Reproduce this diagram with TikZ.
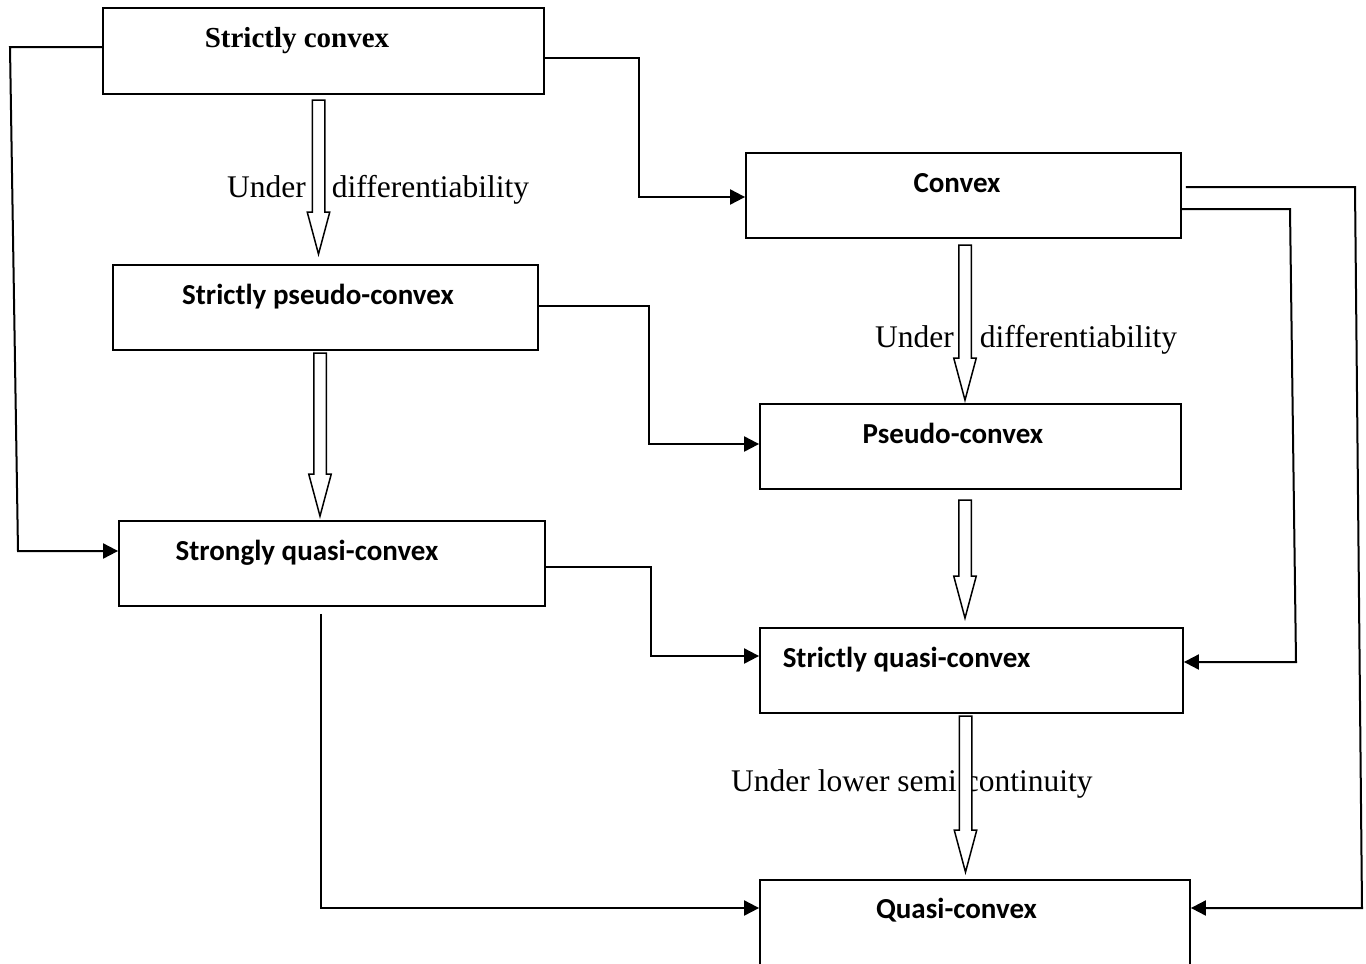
\documentclass[tikz,border=0pt]{standalone}
\usepackage{fontspec}
\setmainfont{Liberation Serif}
\newfontfamily\calib{Carlito}
\usetikzlibrary{arrows.meta,shapes.arrows,calc}
\begin{document}
\begin{tikzpicture}[x=1pt,y=-1pt,
  box/.style={draw, line width=1.8pt, rectangle, inner sep=0pt},
  conn/.style={line width=2pt, -{Triangle[length=15pt,width=15pt]}},
  hollow/.style={single arrow, draw, line width=1.5pt, fill=white, rotate=-90,
    inner xsep=0pt, inner ysep=5.5pt, single arrow head extend=5pt,
    single arrow tip angle=30, anchor=tip},
  sertitle/.style={font=\fontsize{29}{34}\selectfont\bfseries, anchor=base, inner sep=0pt},
  santitle/.style={font=\fontsize{29}{34}\selectfont\calib\bfseries, anchor=base, inner sep=0pt},
  cond/.style={font=\fontsize{31.5}{38}\selectfont, anchor=base west, inner sep=0pt}]
\useasboundingbox (0,0) rectangle (1366,964);
\fill[white] (0,0) rectangle (1366,964);
\clip (0,0) rectangle (1366,964);

% boxes
\node[box, minimum width=441pt, minimum height=86pt] (sc) at (323.5,51) {};
\node[box, minimum width=435pt, minimum height=85pt] (cv) at (963.5,195.5) {};
\node[box, minimum width=425pt, minimum height=85pt] (spc) at (325.5,307.5) {};
\node[box, minimum width=421pt, minimum height=85pt] (pc) at (970.5,446.5) {};
\node[box, minimum width=426pt, minimum height=85pt] (sgq) at (332,563.5) {};
\node[box, minimum width=423pt, minimum height=85pt] (stq) at (971.5,670.5) {};
\node[box, minimum width=430pt, minimum height=120pt] (qc) at (975,940) {};

% box texts
\node[sertitle] (tsc) at (297,47) {Strictly convex};
\node[santitle] (tcv) at (957,192) {Convex};
\node[santitle] (tspc) at (318,304) {Strictly pseudo-convex};
\node[santitle] (tpc) at (953,443) {Pseudo-convex};
\node[santitle] (tsgq) at (307,560) {Strongly quasi-convex};
\node[santitle] (tstq) at (906.5,667) {Strictly quasi-convex};
\node[santitle] (tqc) at (956.5,918) {Quasi-convex};

% condition labels
\node[cond] (l1) at (227,197) {Under\hspace{26pt}differentiability};
\node[cond] (l2) at (875,347) {Under\hspace{26pt}differentiability};
\node[cond] (l3) at (731,791) {Under lower semi continuity};

% hollow implication arrows (placed by their tips)
\node[hollow, minimum height=154pt] (a1) at (318.5,257) {};
\node[hollow, minimum height=163pt] (a2) at (320,519) {};
\node[hollow, minimum height=155pt] (a3) at (965,403) {};
\node[hollow, minimum height=118pt] (a4) at (965,621) {};
\node[hollow, minimum height=156pt] (a5) at (965.5,875) {};

% connectors
\draw[conn] (sc.east |- 0,58) -- (639,58) |- (cv.west |- 0,197);
\draw[conn] (sc.west |- 0,47) -- (10,47) -- (18,551) -- (sgq.west |- 0,551);
\draw[conn] (spc.east |- 0,306) -- (649,306) |- (pc.west |- 0,444);
\draw[conn] (sgq.east |- 0,567) -- (651,567) |- (stq.west |- 0,656);
\draw[conn] ($(sgq.south -| 321,0)+(0,7)$) |- (qc.west |- 0,908);
\draw[conn] (cv.east |- 0,209) -- (1290,209) -- (1296,662) -- (stq.east |- 0,662);
\draw[conn] ($(cv.east |- 0,187)+(4,0)$) -- (1355,187) -- (1362,908) -- (qc.east |- 0,908);
\end{tikzpicture}
\end{document}
